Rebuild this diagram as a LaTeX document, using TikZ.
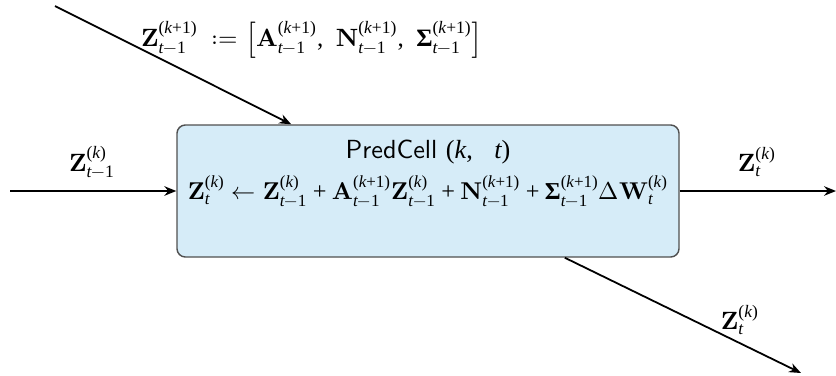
\documentclass[tikz,border=0pt]{standalone}
\usepackage{amsmath}
\usepackage{fontspec}
\usepackage{unicode-math}
\setmathfont{Latin Modern Math}
\setmathfont{Liberation Serif Italic}[range={it->up}]
\setmathfont{Liberation Serif Bold}[range={bfup->up}]
\setmathfont{Liberation Serif}[range={up/{num}, "2B, "2212, "28, "29, "2C, "394}]
\setsansfont{Latin Modern Sans}
\usetikzlibrary{arrows.meta}
\definecolor{cellfill}{HTML}{D6ECF8}
\definecolor{cellborder}{HTML}{505050}
\tikzset{
  cellbox/.style={draw=cellborder, fill=cellfill, rounded corners=3.5pt, line width=0.6pt,
    minimum width=502*0.42pt, minimum height=132*0.42pt, inner sep=0pt, align=center},
  flow/.style={line width=0.75pt, -{Stealth[length=5pt,width=4pt]}},
  lbl/.style={inner sep=0pt, font=\fontsize{10.5}{12}\selectfont}
}
\begin{document}
\begin{tikzpicture}[x=0.42pt,y=-0.42pt]
\useasboundingbox (0,0) rectangle (836,376);
\node[cellbox, font=\fontsize{10.2}{12}\selectfont] (cell) at (428,191) {$\mathbf{Z}_{t}^{(k)} \leftarrow \mathbf{Z}_{t-1}^{(k)} + \mathbf{A}_{t-1}^{(k+1)}\mathbf{Z}_{t-1}^{(k)} + \mathbf{N}_{t-1}^{(k+1)} + \symbfup{\Sigma}_{t-1}^{(k+1)}\Delta\mathbf{W}_{t}^{(k)}$};
\node[lbl, font=\fontsize{11}{12}\selectfont] (cellname) at (428,152) {\textsf{PredCell} $(k,~~t)$};
\coordinate (lin) at (10,191);
\coordinate (rout) at (836,191);
\coordinate (tin) at (55,6);
\coordinate (bout) at (801,373);
\draw[flow] (lin) -- (cell.west);
\draw[flow] (cell.east) -- (rout);
\draw[flow] (tin) -- (cell.154.4);
\draw[flow] (cell.-26.05) -- (bout);
\node[lbl] (llbl) at (92,162) {$\mathbf{Z}_{t-1}^{(k)}$};
\node[lbl] (rlbl) at (757,162) {$\mathbf{Z}_{t}^{(k)}$};
\node[lbl] (blbl) at (740,320) {$\mathbf{Z}_{t}^{(k)}$};
\node[lbl] (tlbl) at (312,40) {$\mathbf{Z}_{t-1}^{(k+1)}\;\mathrel{:=}\left[\rule[-4.5pt]{0pt}{15pt}\mathbf{A}_{t-1}^{(k+1)},~\mathbf{N}_{t-1}^{(k+1)},~\symbfup{\Sigma}_{t-1}^{(k+1)}\right]$};
\end{tikzpicture}
\end{document}
